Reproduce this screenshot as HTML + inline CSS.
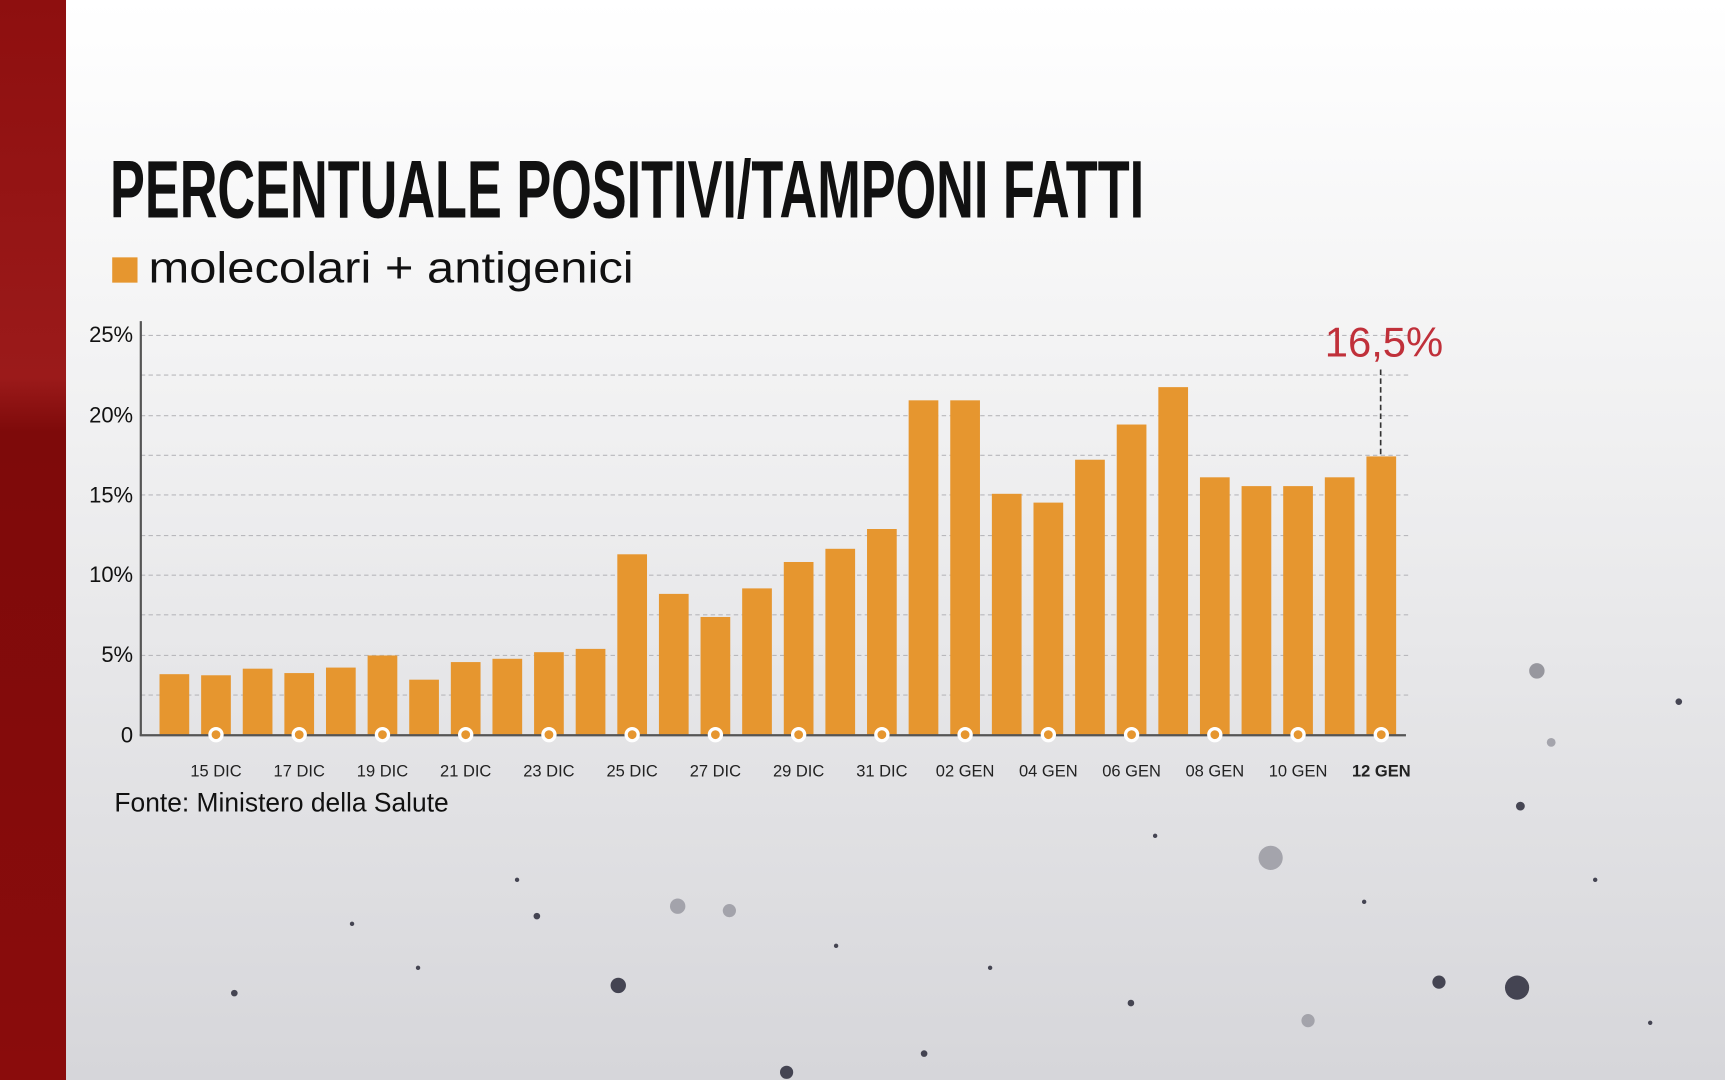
<!DOCTYPE html>
<html><head><meta charset="utf-8"><style>
html,body{margin:0;padding:0;width:1725px;height:1080px;overflow:hidden}
svg{display:block}
</style></head><body>
<svg width="1725" height="1080" viewBox="0 0 1568 982" preserveAspectRatio="none" xmlns="http://www.w3.org/2000/svg">
<defs>
<linearGradient id="bg" x1="0" y1="0" x2="0" y2="1">
<stop offset="0" stop-color="#ffffff"/><stop offset="0.4" stop-color="#f0f0f1"/><stop offset="1" stop-color="#d6d6da"/>
</linearGradient>
<linearGradient id="red" x1="0" y1="0" x2="0" y2="1">
<stop offset="0" stop-color="#8e0f0f"/><stop offset="0.35" stop-color="#9b1a1a"/><stop offset="0.4" stop-color="#7e0a0a"/><stop offset="1" stop-color="#8a0c0c"/>
</linearGradient>
</defs>
<rect width="1568" height="982" fill="url(#bg)"/>
<rect width="60" height="982" fill="url(#red)"/>
<g fill="#2a2a3a" opacity="0.85">
<circle cx="1397" cy="610" r="7" fill="#8a8a92"/><circle cx="1155" cy="780" r="11" fill="#9a9aa2"/>
<circle cx="1379" cy="898" r="11"/><circle cx="1308" cy="893" r="6"/><circle cx="562" cy="896" r="7"/>
<circle cx="616" cy="824" r="7" fill="#9a9aa2"/><circle cx="663" cy="828" r="6" fill="#9a9aa2"/>
<circle cx="1189" cy="928" r="6" fill="#9a9aa2"/><circle cx="715" cy="975" r="6"/><circle cx="1382" cy="733" r="4"/>
<circle cx="1526" cy="638" r="3"/><circle cx="1410" cy="675" r="4" fill="#9a9aa2"/><circle cx="488" cy="833" r="3"/>
<circle cx="213" cy="903" r="3"/><circle cx="840" cy="958" r="3"/><circle cx="1028" cy="912" r="3"/>
<circle cx="1500" cy="930" r="2"/><circle cx="380" cy="880" r="2"/><circle cx="320" cy="840" r="2"/>
<circle cx="900" cy="880" r="2"/><circle cx="1240" cy="820" r="2"/><circle cx="1450" cy="800" r="2"/>
<circle cx="470" cy="800" r="2"/><circle cx="1050" cy="760" r="2"/><circle cx="760" cy="860" r="2"/>
</g>
<text x="100" y="198" font-family="Liberation Sans, sans-serif" font-weight="bold" font-size="74" fill="#111" textLength="940" lengthAdjust="spacingAndGlyphs">PERCENTUALE POSITIVI/TAMPONI FATTI</text>
<rect x="102" y="234" width="23" height="23" fill="#e6962f"/>
<text x="135" y="257" font-family="Liberation Sans, sans-serif" font-size="40" fill="#111" textLength="441" lengthAdjust="spacingAndGlyphs">molecolari + antigenici</text>
<g stroke="#b8b8bc" stroke-dasharray="4,3" stroke-width="1">
<line x1="128" x2="1280" y1="305" y2="305"/><line x1="128" x2="1280" y1="341" y2="341"/>
<line x1="128" x2="1280" y1="378" y2="378"/><line x1="128" x2="1280" y1="414" y2="414"/>
<line x1="128" x2="1280" y1="450" y2="450"/><line x1="128" x2="1280" y1="487" y2="487"/>
<line x1="128" x2="1280" y1="523" y2="523"/><line x1="128" x2="1280" y1="559" y2="559"/>
<line x1="128" x2="1280" y1="596" y2="596"/><line x1="128" x2="1280" y1="632" y2="632"/>
</g>
<g font-family="Liberation Sans, sans-serif" font-size="20" fill="#111" text-anchor="end">
<text x="121" y="311">25%</text><text x="121" y="384">20%</text><text x="121" y="457">15%</text>
<text x="121" y="529">10%</text><text x="121" y="602">5%</text><text x="121" y="675">0</text>
</g>
<g fill="#e6962f" id="bars"></g>
<line x1="128" y1="292" x2="128" y2="669" stroke="#555" stroke-width="2"/>
<line x1="127" y1="668.5" x2="1278" y2="668.5" stroke="#555" stroke-width="2"/>
<g id="dots"></g>
<g id="labels" font-family="Liberation Sans, sans-serif" font-size="15" fill="#222" text-anchor="middle"></g>
<line x1="1255" y1="336" x2="1255" y2="414" stroke="#333" stroke-width="1.5" stroke-dasharray="5,3"/>
<text x="1258" y="324" font-family="Liberation Sans, sans-serif" font-size="38" fill="#c0303a" text-anchor="middle">16,5%</text>
<text x="104" y="738" font-family="Liberation Sans, sans-serif" font-size="24" fill="#111">Fonte: Ministero della Salute</text>
<script>
var tops=[613,614,608,612,607,596,618,602,599,593,590,504,540,561,535,511,499,481,364,364,449,457,418,386,352,434,442,442,434,415];
var ns="http://www.w3.org/2000/svg",b=document.getElementById('bars'),d=document.getElementById('dots'),l=document.getElementById('labels');
var lab=["15 DIC","17 DIC","19 DIC","21 DIC","23 DIC","25 DIC","27 DIC","29 DIC","31 DIC","02 GEN","04 GEN","06 GEN","08 GEN","10 GEN","12 GEN"];
for(var i=0;i<30;i++){var x=145+i*37.83;var r=document.createElementNS(ns,'rect');
r.setAttribute('x',x);r.setAttribute('y',tops[i]);r.setAttribute('width',27);r.setAttribute('height',668-tops[i]);b.appendChild(r);
if(i%2==1){var c=document.createElementNS(ns,'circle');c.setAttribute('cx',x+13.5);c.setAttribute('cy',668);c.setAttribute('r',5.5);
c.setAttribute('fill','#e6962f');c.setAttribute('stroke','#fff');c.setAttribute('stroke-width',3);d.appendChild(c);
var t=document.createElementNS(ns,'text');t.setAttribute('x',x+13.5);t.setAttribute('y',706);t.textContent=lab[(i-1)/2];
if(i==29)t.setAttribute('font-weight','bold');l.appendChild(t);}}
</script>
</svg>
</body></html>
